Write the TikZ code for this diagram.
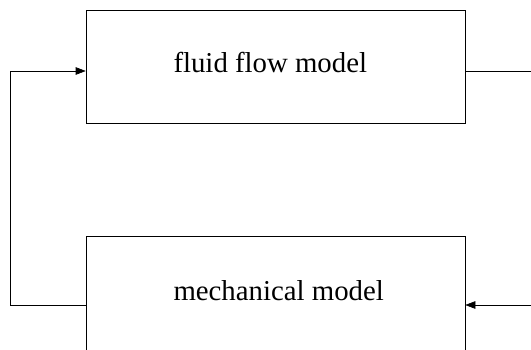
\documentclass[tikz,border=0pt]{standalone}
\usepackage{fontspec}
\setmainfont{Liberation Serif}
\usetikzlibrary{arrows.meta,positioning}

\begin{document}
\begin{tikzpicture}[x=1pt,y=1pt,>={Triangle[length=10pt,width=7.5pt]},
  modelbox/.style={draw,semithick,minimum width=379pt,minimum height=113.3pt,
    inner xsep=87.5pt,inner ysep=0pt,text height=20pt,text depth=8.8pt,
    font=\fontsize{28.8}{34}\selectfont}]
\useasboundingbox (0,0) rectangle (531,-349);
\node[modelbox] (flow) at (275.5,-66.7){\makebox[204pt][l]{fluid flow model}};
\node[modelbox,text depth=5.2pt] (mech) at (275.5,-293.3){\makebox[204pt][l]{mechanical model}};
\coordinate (outR) at (531,-71);
\coordinate (inR) at (531,-305);
\draw[semithick,->] ([yshift=-11.7pt]mech.west) -- ++(-75.5,0) |- ([yshift=-4.3pt]flow.west);
\draw[semithick] ([yshift=-4.3pt]flow.east) -- (outR);
\draw[semithick,->] (inR) -- ([yshift=-11.7pt]mech.east);
\end{tikzpicture}
\end{document}
